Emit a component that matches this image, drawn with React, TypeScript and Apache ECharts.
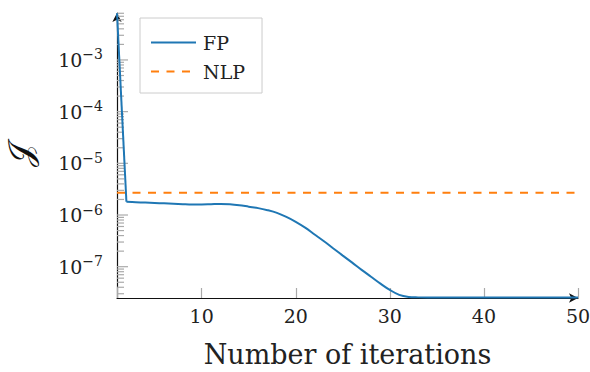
import React, { useEffect, useRef } from 'react';
import * as echarts from 'echarts';

// Iteration numbers (x)
const iterations = [
  1, 2, 3, 4, 5, 6, 7, 8, 9, 10,
  11, 12, 13, 14, 15, 16, 17, 18, 19, 20,
  21, 22, 23, 24, 25, 26, 27, 28, 29, 30,
  31, 32, 33, 34, 35, 36, 37, 38, 39, 40,
  41, 42, 43, 44, 45, 46, 47, 48, 49, 50,
];

// FP objective values
const fpValues = [
  8.0e-3, 1.8e-6, 1.77e-6, 1.74e-6, 1.71e-6, 1.68e-6, 1.65e-6, 1.62e-6, 1.6e-6, 1.6e-6,
  1.62e-6, 1.64e-6, 1.62e-6, 1.55e-6, 1.45e-6, 1.36e-6, 1.24e-6, 1.1e-6, 9.2e-7, 7.4e-7,
  5.7e-7, 4.2e-7, 3.1e-7, 2.25e-7, 1.64e-7, 1.2e-7, 8.7e-8, 6.4e-8, 4.7e-8, 3.55e-8,
  2.85e-8, 2.6e-8, 2.55e-8, 2.54e-8, 2.54e-8, 2.54e-8, 2.54e-8, 2.54e-8, 2.54e-8, 2.54e-8,
  2.54e-8, 2.54e-8, 2.54e-8, 2.54e-8, 2.54e-8, 2.54e-8, 2.54e-8, 2.54e-8, 2.54e-8, 2.54e-8,
];

// NLP reference level (constant)
const nlpX = [1, 50];
const nlpValues = [2.7e-6, 2.7e-6];

const seriesNames = ['FP', 'NLP'];
const xTickLabels = [10, 20, 30, 40, 50];
const yDecades = [-8, -7, -6, -5, -4, -3];
const yMultipliers = [1, 2, 3, 4, 5, 6, 7, 8, 9];

const Y_MIN = 2.48e-8;
const Y_MAX = 8.1e-3;

export default function App() {
  const ref = useRef<HTMLDivElement>(null);

  useEffect(() => {
    if (!ref.current) return;
    const chart = echarts.init(ref.current, undefined, { renderer: 'svg' });

    const tickData: number[][] = [];
    yDecades.forEach((d) => {
      yMultipliers.forEach((m) => {
        const v = m * Math.pow(10, d);
        if (v >= Y_MIN && v <= Y_MAX) tickData.push([1, v, m === 1 ? 1 : 0]);
      });
    });

    const fpPoints = iterations.map((x, i) => [x, fpValues[i]]);
    const font = 'DejaVu Serif';
    const fpLine = { color: '#1f77b4', width: 2 };

    chart.setOption({
      animation: false,
      grid: { left: 117, right: 12, top: 13, bottom: 74, containLabel: false, outerBoundsMode: 'none' },
      legend: {
        data: seriesNames,
        orient: 'vertical',
        left: 140,
        top: 18,
        padding: [15, 17, 12, 10],
        itemGap: 10,
        itemWidth: 45,
        itemHeight: 20,
        borderColor: '#cccccc',
        borderWidth: 1,
        borderRadius: 0,
        itemStyle: { opacity: 0 },
        textStyle: { fontFamily: font, fontSize: 19, color: '#222', padding: [0, 0, 0, 2] },
      },
      xAxis: {
        type: 'value',
        min: 1,
        max: 50,
        splitNumber: 5,
        axisLine: {
          show: true,
          lineStyle: { color: '#111', width: 1.2 },
          symbol: ['none', 'arrow'],
          symbolSize: [7, 9],
        },
        axisTick: { show: true, inside: true, length: 10, lineStyle: { color: '#aaa', width: 1.2 } },
        splitLine: { show: false },
        axisLabel: {
          fontFamily: font,
          fontSize: 19,
          color: '#222',
          margin: 8,
          formatter: (v: number) => (xTickLabels.includes(v) ? String(v) : ''),
        },
        name: 'Number of iterations',
        nameLocation: 'middle',
        nameGap: 43,
        nameTextStyle: { fontFamily: font, fontSize: 27, color: '#222' },
      },
      yAxis: {
        type: 'log',
        logBase: 10,
        min: Y_MIN,
        max: Y_MAX,
        axisLine: {
          show: true,
          lineStyle: { color: '#111', width: 1.2 },
          symbol: ['none', 'arrow'],
          symbolSize: [7, 9],
        },
        axisTick: { show: false },
        splitLine: { show: false },
        minorTick: { show: false },
        axisLabel: {
          margin: 14,
          formatter: (v: number) => {
            const e = Math.log10(v);
            const r = Math.round(e);
            if (Math.abs(e - r) > 1e-6) return '';
            return '{b|10}{s|' + (r < 0 ? '\u2212' + Math.abs(r) : String(r)) + '}';
          },
          rich: {
            b: { fontFamily: font, fontSize: 19, color: '#222' },
            s: { fontFamily: font, fontSize: 14, color: '#222', verticalAlign: 'bottom', padding: [0, 0, 11, 0] },
          },
        },
        name: '\u{1D4A5}',
        nameLocation: 'middle',
        nameRotate: 90,
        nameGap: 80,
        nameTextStyle: { fontFamily: "'DejaVu Serif', 'DejaVu Sans', serif", fontSize: 34, color: '#111' },
      },
      series: [
        {
          name: 'FP',
          type: 'line',
          data: fpPoints.slice(0, 2),
          symbol: 'none',
          lineStyle: fpLine,
          itemStyle: { color: '#1f77b4' },
          z: 3,
        },
        {
          name: 'FP',
          type: 'line',
          data: fpPoints.slice(1),
          symbol: 'none',
          smooth: 0.35,
          lineStyle: fpLine,
          itemStyle: { color: '#1f77b4' },
          z: 3,
        },
        {
          name: 'NLP',
          type: 'line',
          data: nlpX.map((x, i) => [x, nlpValues[i]]),
          symbol: 'none',
          lineStyle: { color: '#ff7f0e', width: 2, type: [8, 7.5] },
          itemStyle: { color: '#ff7f0e' },
          z: 2,
        },
        {
          name: 'yticks',
          type: 'custom',
          silent: true,
          data: tickData,
          encode: { x: 0, y: 1 },
          renderItem: (params: any, api: any) => {
            const p = api.coord([api.value(0), api.value(1)]);
            const len = api.value(2) ? 11 : 7;
            return {
              type: 'line',
              shape: { x1: p[0], y1: p[1], x2: p[0] + len, y2: p[1] },
              style: { stroke: '#aaa', lineWidth: 1.2 },
            };
          },
          z: 1,
        },
      ],
    });

    return () => chart.dispose();
  }, []);

  return (
    <div
      ref={ref}
      style={{ position: 'absolute', left: 0, top: 0, width: 590, height: 372 }}
    />
  );
}
